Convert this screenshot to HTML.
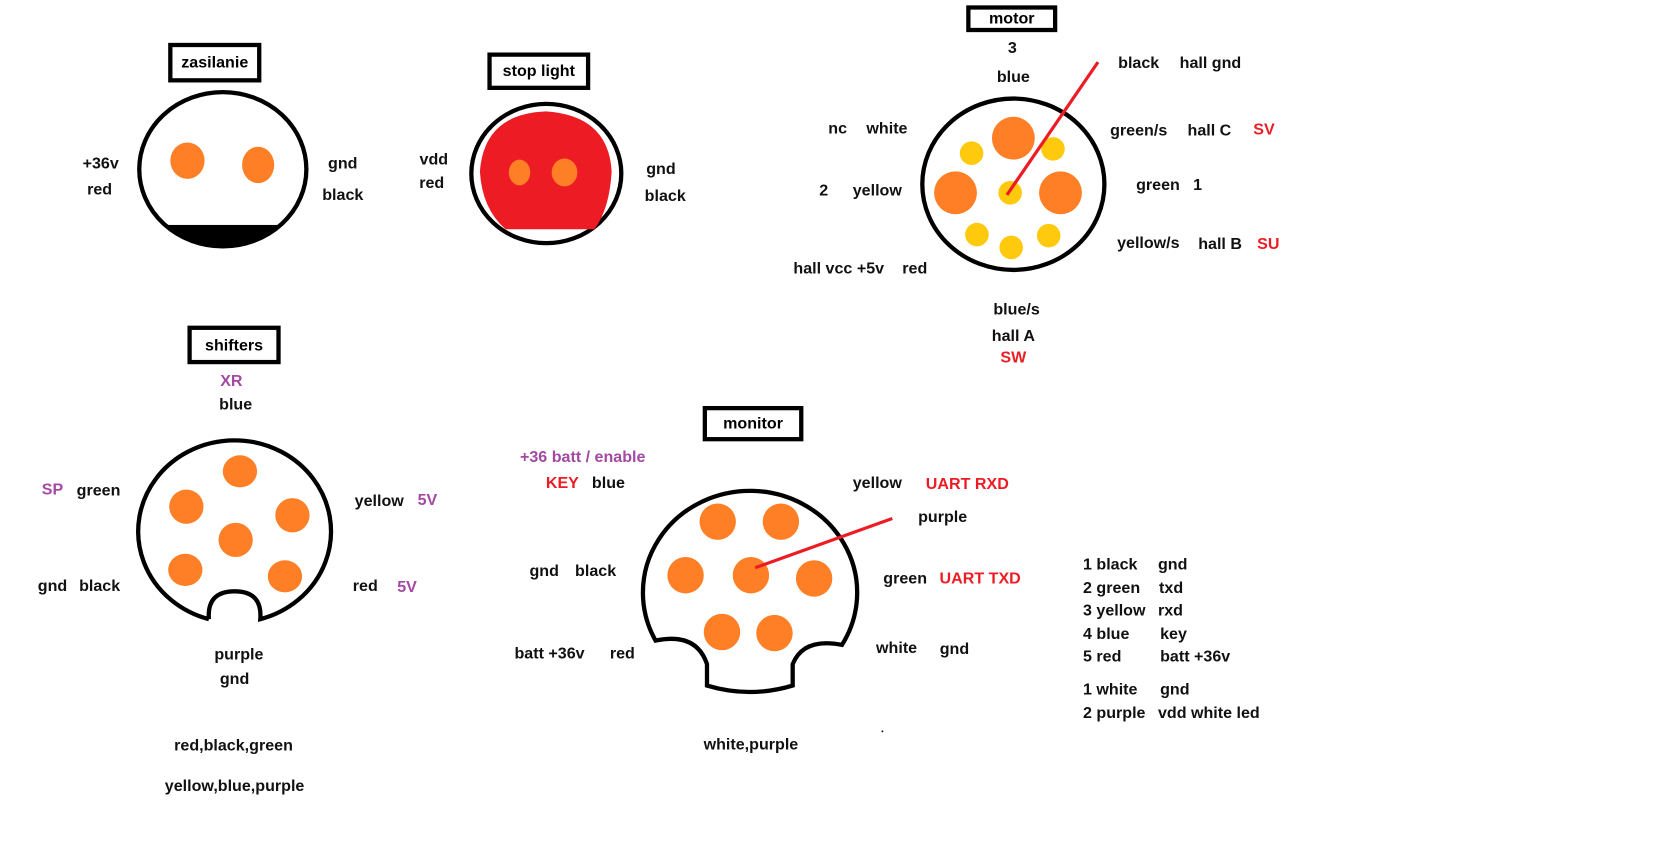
<!DOCTYPE html>
<html><head><meta charset="utf-8"><style>
html,body{margin:0;padding:0;background:#fff;width:1671px;height:864px;overflow:hidden}
#w{position:absolute;left:0;top:0;width:1560px;height:807px;transform:scale(1.0712);transform-origin:0 0}
.t{position:absolute;transform:translate(-50%,-50%);font-family:"Liberation Sans Narrow","Liberation Sans",sans-serif;font-weight:bold;font-size:15px;color:#111;white-space:nowrap}
.l{position:absolute;transform:translateY(-50%);font-family:"Liberation Sans Narrow","Liberation Sans",sans-serif;font-weight:bold;font-size:15px;color:#111;white-space:nowrap}
.r{color:#ed1c24}.p{color:#a349a4}
.b{position:absolute;border:4px solid #000;box-sizing:border-box;font-family:"Liberation Sans Narrow","Liberation Sans",sans-serif;font-weight:bold;font-size:15px;display:flex;align-items:center;justify-content:center}
svg{position:absolute;left:0;top:0}
</style></head><body><div id="w">
<svg width="1560" height="807">
<defs><clipPath id="zc"><ellipse cx="208" cy="158" rx="78" ry="72"/></clipPath></defs>
<ellipse cx="208" cy="158" rx="78" ry="72" fill="#fff" stroke="#000" stroke-width="4"/>
<rect x="120" y="210" width="180" height="40" fill="#000" clip-path="url(#zc)"/>
<ellipse cx="175" cy="150" rx="16" ry="17" fill="#ff7f27"/>
<ellipse cx="241" cy="154" rx="15" ry="17" fill="#ff7f27"/>
<ellipse cx="510" cy="162" rx="70" ry="65" fill="#fff" stroke="#000" stroke-width="4"/>
<path d="M472 214 Q450 195 448 160 Q452 106 510 104 Q568 108 571 160 Q569 195 555 214 Z" fill="#ed1c24"/>
<ellipse cx="485" cy="161" rx="10" ry="12" fill="#ff7f27"/>
<ellipse cx="527" cy="161" rx="12" ry="13" fill="#ff7f27"/>
<ellipse cx="946" cy="172" rx="85" ry="80" fill="#fff" stroke="#000" stroke-width="4"/>
<ellipse cx="946" cy="129" rx="20" ry="20" fill="#ff7f27"/>
<ellipse cx="892" cy="180" rx="20" ry="20" fill="#ff7f27"/>
<ellipse cx="990" cy="180" rx="20" ry="20" fill="#ff7f27"/>
<g fill="#ffc90e"><ellipse cx="907" cy="143" rx="11" ry="11"/><ellipse cx="983" cy="139" rx="11" ry="11"/><ellipse cx="943" cy="180" rx="11" ry="11"/><ellipse cx="912" cy="219" rx="11" ry="11"/><ellipse cx="979" cy="220" rx="11" ry="11"/><ellipse cx="944" cy="231" rx="11" ry="11"/></g>
<line x1="1025" y1="58" x2="940" y2="182" stroke="#ed1c24" stroke-width="3"/>
<path d="M195 578 A90 85 0 1 1 243 578 Q245 552 219 552 Q193 552 195 578" fill="#fff" stroke="#000" stroke-width="4"/>
<g fill="#ff7f27"><ellipse cx="224" cy="440" rx="16" ry="15"/><ellipse cx="174" cy="473" rx="16" ry="16"/><ellipse cx="273" cy="481" rx="16" ry="16"/><ellipse cx="220" cy="504" rx="16" ry="16"/><ellipse cx="173" cy="532" rx="16" ry="15"/><ellipse cx="266" cy="538" rx="16" ry="15"/></g>
<path d="M612 598 A100 95 0 1 1 786 602 Q750 595 740 620 L740 640 Q700 652 660 640 L660 620 Q650 590 612 598 Z" fill="#fff" stroke="#000" stroke-width="4"/>
<g fill="#ff7f27"><ellipse cx="670" cy="487" rx="17" ry="17"/><ellipse cx="729" cy="487" rx="17" ry="17"/><ellipse cx="640" cy="537" rx="17" ry="17"/><ellipse cx="701" cy="537" rx="17" ry="17"/><ellipse cx="760" cy="540" rx="17" ry="17"/><ellipse cx="674" cy="590" rx="17" ry="17"/><ellipse cx="723" cy="591" rx="17" ry="17"/></g>
<line x1="705" y1="530" x2="833" y2="484" stroke="#ed1c24" stroke-width="3"/>
<rect x="823" y="682" width="1.5" height="1.5" fill="#000"/>
</svg>
<div class="b" style="left:157px;top:40px;width:87px;height:37px">zasilanie</div>
<div class="b" style="left:455px;top:49px;width:96px;height:35px">stop light</div>
<div class="b" style="left:902px;top:5px;width:85px;height:25px">motor</div>
<div class="b" style="left:175px;top:304px;width:87px;height:36px">shifters</div>
<div class="b" style="left:656px;top:379px;width:94px;height:33px">monitor</div>

<div class="t" style="left:94px;top:153px">+36v</div><div class="t" style="left:93px;top:177px">red</div>
<div class="t" style="left:320px;top:153px">gnd</div><div class="t" style="left:320px;top:182px">black</div>
<div class="t" style="left:405px;top:149px">vdd</div><div class="t" style="left:403px;top:171px">red</div>
<div class="t" style="left:617px;top:158px">gnd</div><div class="t" style="left:621px;top:183px">black</div>

<div class="t" style="left:945px;top:45px">3</div><div class="t" style="left:946px;top:72px">blue</div>
<div class="t" style="left:1063px;top:59px">black</div><div class="t" style="left:1130px;top:59px">hall gnd</div>
<div class="t" style="left:782px;top:120px">nc</div><div class="t" style="left:828px;top:120px">white</div>
<div class="t" style="left:1063px;top:122px">green/s</div><div class="t" style="left:1129px;top:122px">hall C</div><div class="t r" style="left:1180px;top:121px">SV</div>
<div class="t" style="left:769px;top:178px">2</div><div class="t" style="left:819px;top:178px">yellow</div>
<div class="t" style="left:1081px;top:173px">green</div><div class="t" style="left:1118px;top:173px">1</div>
<div class="t" style="left:1072px;top:227px">yellow/s</div><div class="t" style="left:1139px;top:228px">hall B</div><div class="t r" style="left:1184px;top:228px">SU</div>
<div class="t" style="left:783px;top:251px">hall vcc +5v</div><div class="t" style="left:854px;top:251px">red</div>
<div class="t" style="left:949px;top:289px">blue/s</div><div class="t" style="left:946px;top:314px">hall A</div><div class="t r" style="left:946px;top:334px">SW</div>

<div class="t p" style="left:216px;top:356px">XR</div><div class="t" style="left:220px;top:378px">blue</div>
<div class="t p" style="left:49px;top:457px">SP</div><div class="t" style="left:92px;top:458px">green</div>
<div class="t" style="left:354px;top:468px">yellow</div><div class="t p" style="left:399px;top:467px">5V</div>
<div class="t" style="left:49px;top:547px">gnd</div><div class="t" style="left:93px;top:547px">black</div>
<div class="t" style="left:341px;top:547px">red</div><div class="t p" style="left:380px;top:548px">5V</div>
<div class="t" style="left:223px;top:611px">purple</div><div class="t" style="left:219px;top:634px">gnd</div>
<div class="t" style="left:218px;top:696px">red,black,green</div><div class="t" style="left:219px;top:734px">yellow,blue,purple</div>

<div class="t p" style="left:544px;top:427px">+36 batt / enable</div>
<div class="t r" style="left:525px;top:451px">KEY</div><div class="t" style="left:568px;top:451px">blue</div>
<div class="t" style="left:819px;top:451px">yellow</div><div class="t r" style="left:903px;top:452px">UART RXD</div>
<div class="t" style="left:880px;top:483px">purple</div>
<div class="t" style="left:508px;top:533px">gnd</div><div class="t" style="left:556px;top:533px">black</div>
<div class="t" style="left:845px;top:540px">green</div><div class="t r" style="left:915px;top:540px">UART TXD</div>
<div class="t" style="left:513px;top:610px">batt +36v</div><div class="t" style="left:581px;top:610px">red</div>
<div class="t" style="left:837px;top:605px">white</div><div class="t" style="left:891px;top:606px">gnd</div>
<div class="t" style="left:701px;top:695px">white,purple</div>

<div class="l" style="left:1011px;top:527px">1 black</div><div class="l" style="left:1081px;top:527px">gnd</div>
<div class="l" style="left:1011px;top:549px">2 green</div><div class="l" style="left:1082px;top:549px">txd</div>
<div class="l" style="left:1011px;top:570px">3 yellow</div><div class="l" style="left:1081px;top:570px">rxd</div>
<div class="l" style="left:1011px;top:592px">4 blue</div><div class="l" style="left:1083px;top:592px">key</div>
<div class="l" style="left:1011px;top:613px">5 red</div><div class="l" style="left:1083px;top:613px">batt +36v</div>
<div class="l" style="left:1011px;top:644px">1 white</div><div class="l" style="left:1083px;top:644px">gnd</div>
<div class="l" style="left:1011px;top:666px">2 purple</div><div class="l" style="left:1081px;top:666px">vdd white led</div>
</div></body></html>
